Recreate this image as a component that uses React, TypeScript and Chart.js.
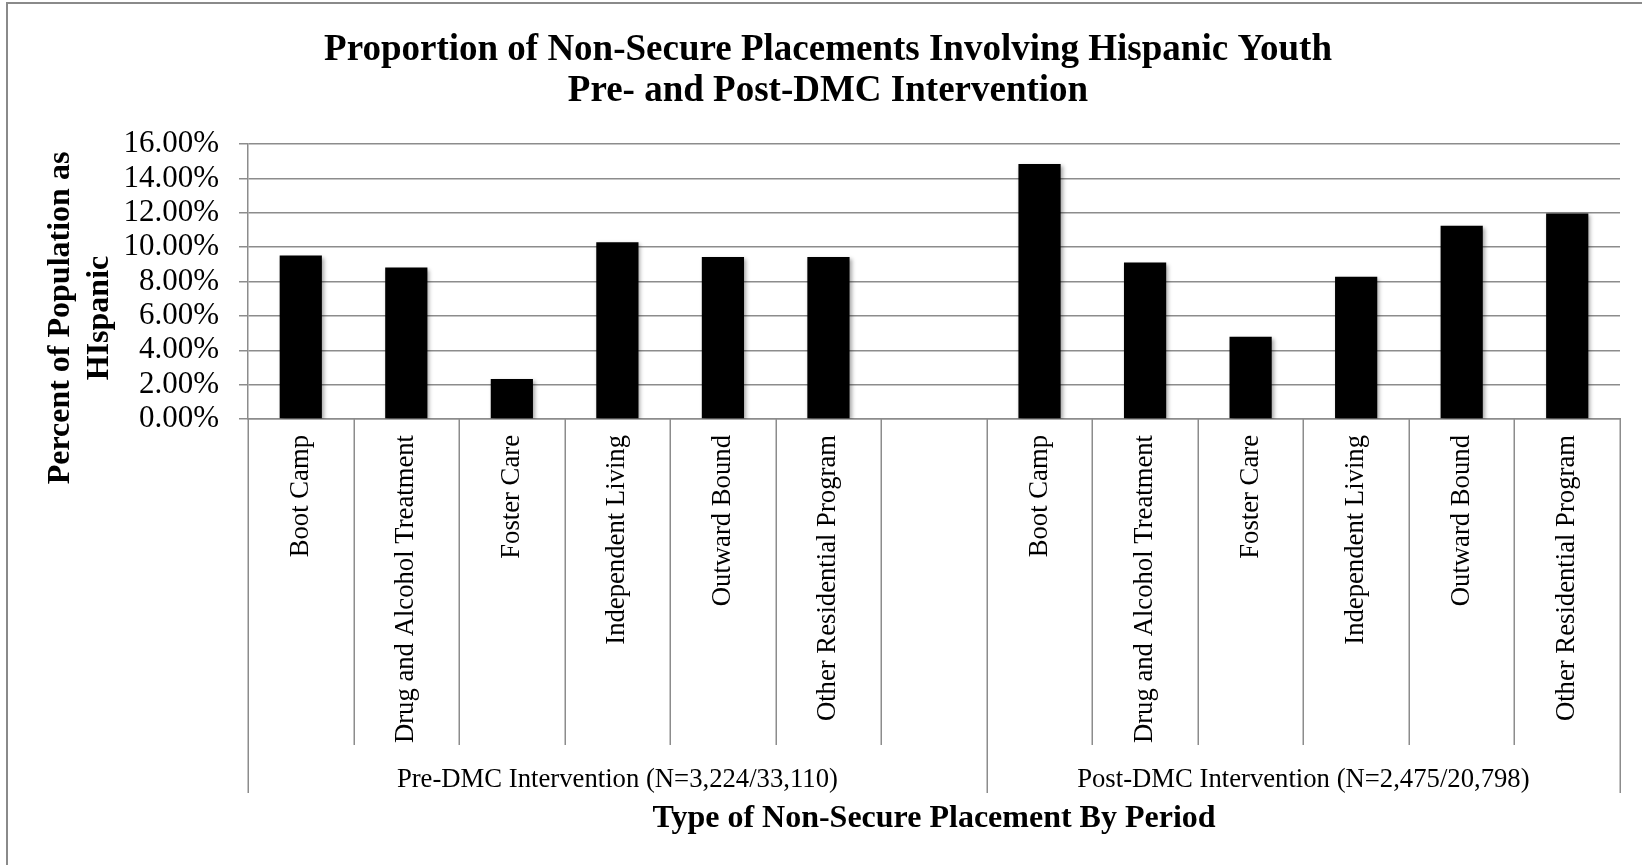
import React, { useEffect, useRef } from "react";
import { Chart, registerables } from "chart.js";

Chart.register(...registerables);

// Placement types, shown once per period
const categories = [
  "Boot Camp",
  "Drug and Alcohol Treatment",
  "Foster Care",
  "Independent Living",
  "Outward Bound",
  "Other Residential Program",
];

// Percent of placements involving Hispanic youth
const preValues = [9.51, 8.81, 2.33, 10.28, 9.43, 9.43];
const postValues = [14.83, 9.1, 4.78, 8.28, 11.24, 11.96];

const periods = [
  "Pre-DMC Intervention (N=3,224/33,110)",
  "Post-DMC Intervention (N=2,475/20,798)",
];

const titleLines = [
  "Proportion of Non-Secure Placements Involving Hispanic Youth",
  "Pre- and Post-DMC Intervention",
];
const yTitleLines = ["Percent of Population as", "HIspanic"];
const xTitle = "Type of Non-Secure Placement By Period";

const yMin = 0;
const yMax = 16;
const yStep = 2;

// First period has an empty trailing slot before the second one starts
const xLabels = [...categories, "", ...categories];
const barValues: (number | null)[] = [...preValues, null, ...postValues];
const groupSpans = [
  [0, categories.length + 1],
  [categories.length + 1, xLabels.length],
];

const SERIF = "'Liberation Serif', 'Times New Roman', serif";
const GRID = "#8c8c8c";

const decorPlugin = {
  id: "decor",
  beforeDraw(chart: any) {
    const { ctx, width, height } = chart;
    ctx.save();
    ctx.fillStyle = "#ffffff";
    ctx.fillRect(0, 0, width, height);
    ctx.strokeStyle = "#8a8a8a";
    ctx.lineWidth = 2;
    ctx.strokeRect(7, 3, width + 100, height + 100);
    ctx.restore();
  },
  beforeDatasetsDraw(chart: any) {
    const { ctx } = chart;
    ctx.save();
    ctx.shadowColor = "rgba(0,0,0,0.35)";
    ctx.shadowBlur = 4;
    ctx.shadowOffsetX = 2;
    ctx.shadowOffsetY = 2;
  },
  afterDatasetsDraw(chart: any) {
    chart.ctx.restore();
  },
  afterDraw(chart: any) {
    const { ctx, chartArea } = chart;
    const xs = chart.scales.x;
    const n = xLabels.length;
    const w = (xs.right - xs.left) / n;
    const bottom = chartArea.bottom;
    const groupEdges = new Set<number>();
    groupSpans.forEach(([a, b]) => {
      groupEdges.add(a);
      groupEdges.add(b);
    });

    ctx.save();
    // category separators below the axis
    ctx.strokeStyle = GRID;
    ctx.lineWidth = 1.5;
    for (let i = 0; i <= n; i++) {
      const x = Math.round(xs.left + i * w) + 0.25;
      const y2 = groupEdges.has(i) ? bottom + 374 : bottom + 326;
      ctx.beginPath();
      ctx.moveTo(x, bottom);
      ctx.lineTo(x, y2);
      ctx.stroke();
    }

    // period labels
    ctx.fillStyle = "#000";
    ctx.font = `26.7px ${SERIF}`;
    ctx.textAlign = "center";
    ctx.textBaseline = "alphabetic";
    groupSpans.forEach(([a, b], k) => {
      const cx = xs.left + ((a + b) / 2) * w;
      ctx.fillText(periods[k], cx, bottom + 368);
    });

    // x axis title
    ctx.font = `bold 32px ${SERIF}`;
    ctx.fillText(xTitle, (xs.left + xs.right) / 2, bottom + 408);

    // chart title
    ctx.font = `bold 37px ${SERIF}`;
    ctx.fillText(titleLines[0], 828, 60);
    ctx.fillText(titleLines[1], 828, 101);

    // y axis title
    ctx.font = `bold 32px ${SERIF}`;
    ctx.textBaseline = "middle";
    const yc = 318;
    [61, 100].forEach((x, i) => {
      ctx.save();
      ctx.translate(x, yc);
      ctx.rotate(-Math.PI / 2);
      ctx.fillText(yTitleLines[i], 0, 0);
      ctx.restore();
    });
    ctx.restore();
  },
};

export default function App() {
  const canvasRef = useRef<HTMLCanvasElement | null>(null);

  useEffect(() => {
    const canvas = canvasRef.current;
    if (!canvas) return;
    const chart = new Chart(canvas, {
      type: "bar",
      data: {
        labels: xLabels,
        datasets: [
          {
            data: barValues,
            backgroundColor: "#000000",
            borderWidth: 0,
            barPercentage: 0.4,
            categoryPercentage: 1.0,
          },
        ],
      },
      options: {
        animation: false,
        responsive: false,
        devicePixelRatio: 1,
        layout: { padding: { left: 0, top: 144, right: 22, bottom: 0 } },
        plugins: {
          legend: { display: false },
          title: { display: false },
          tooltip: { enabled: false },
        },
        scales: {
          x: {
            type: "category",
            grid: { display: false, drawOnChartArea: false, drawTicks: false },
            border: { display: true, color: GRID, width: 1.5 },
            ticks: {
              autoSkip: false,
              minRotation: 90,
              maxRotation: 90,
              padding: 16,
              color: "#000",
              font: { family: SERIF, size: 26.7 },
            },
            afterFit(scale: any) {
              scale.height = 446;
            },
          },
          y: {
            min: yMin,
            max: yMax,
            grid: {
              color: GRID,
              lineWidth: 1.5,
              drawTicks: true,
              tickLength: 9,
              tickColor: GRID,
            },
            border: { display: true, color: GRID, width: 1.5 },
            ticks: {
              stepSize: yStep,
              autoSkip: false,
              padding: 20,
              color: "#000",
              font: { family: SERIF, size: 31 },
              callback: (v: any) => `${Number(v).toFixed(2)}%`,
            },
            afterFit(scale: any) {
              scale.width = 248;
            },
          },
        },
      },
      plugins: [decorPlugin],
    });
    return () => chart.destroy();
  }, []);

  return (
    <div
      style={{
        position: "fixed",
        left: 0,
        top: 0,
        width: 1642,
        height: 865,
        overflow: "hidden",
        background: "#fff",
      }}
    >
      <canvas ref={canvasRef} width={1642} height={865} style={{ display: "block" }} />
    </div>
  );
}
